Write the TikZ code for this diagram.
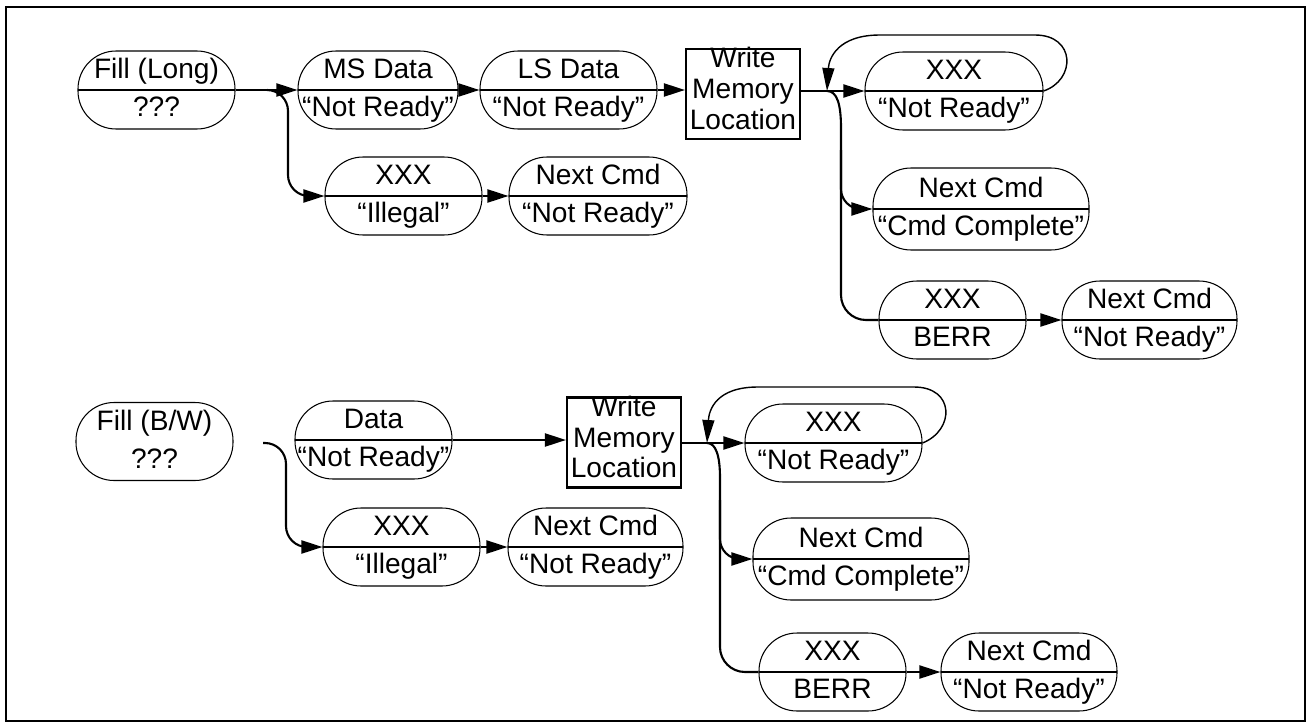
\documentclass[tikz,border=0pt]{standalone}
\usepackage{fontspec}
\setmainfont{Liberation Sans}
\usetikzlibrary{arrows.meta, positioning}
\newcommand{\twoln}[2]{\rule[-3pt]{0pt}{14.4pt}#1\\\rule[-3pt]{0pt}{14.4pt}#2}
\newcommand{\threeln}[3]{\rule[-3pt]{0pt}{14.4pt}#1\\\rule[-3pt]{0pt}{14.4pt}#2\\\rule[-3pt]{0pt}{14.4pt}#3}
\tikzset{
  stplain/.style={draw, line width=0.6pt, rounded corners=0.76cm, minimum width=#1*0.02cm,
    minimum height=1.56cm, inner sep=0pt, align=center, font=\fontsize{16}{21.6}\selectfont},
  stnode/.style={stplain=#1, path picture={\draw[line width=1.2pt, sharp corners]
    (path picture bounding box.west) -- (path picture bounding box.east);}},
  wbox/.style={draw, line width=1.2pt, minimum width=2.28cm, minimum height=1.8cm, inner sep=0pt},
  wtext/.style={inner sep=0pt, align=center, font=\fontsize{16}{17.6}\selectfont},
  conn/.style={line width=1.2pt},
  arr/.style={conn, -{Triangle[length=0.42cm, width=0.26cm]}},
  loop/.style={line width=0.8pt, -{Triangle[length=0.46cm, width=0.24cm]}}
}
\begin{document}
\begin{tikzpicture}[x=0.02cm, y=-0.02cm]
    \useasboundingbox (0,0) rectangle (1312,727);
    \draw[line width=1.6pt] (6,7) rectangle (1305,721);

    % Fill (Long)
    \node[stnode=157] (fl) at (156.5,90) {\twoln{Fill (Long)}{???}};
    \node[stnode=160] (ms) at (378,90) {\twoln{MS Data}{“Not Ready”}};
    \node[stnode=177] (ls) at (568.5,90) {\twoln{LS Data}{“Not Ready”}};
    \node[wbox] (wa) at (743,94) {};
    \node[wtext] (wat) at (743,91) {\threeln{Write}{Memory}{Location}};
    \node[stnode=178] (xa) at (954,91) {\twoln{XXX}{“Not Ready”}};
    \node[stnode=216, minimum height=1.64cm] (na) at (981,209) {\twoln{Next Cmd}{“Cmd Complete”}};
    \node[stnode=147] (ba) at (952.5,320) {\twoln{XXX}{BERR}};
    \node[stnode=175] (nb) at (1149.5,320) {\twoln{Next Cmd}{“Not Ready”}};
    \node[stnode=157] (xi) at (403.5,196) {\twoln{XXX}{“Illegal”}};
    \node[stnode=178] (ni) at (598,196) {\twoln{Next Cmd}{“Not Ready”}};

    \coordinate (s1) at (267,90);
    \coordinate (b1) at (288,196);
    \coordinate (j1) at (827,91);
    \coordinate (v1) at (841,128);
    \coordinate (c1) at (841,150);

    \draw[arr] (fl.east) -- (ms.west);
    \draw[arr, rounded corners=0.42cm] (s1) -| (b1) -- (xi.west);
    \draw[arr] (xi.east) -- (ni.west);
    \draw[arr] (ms.east) -- (ls.west);
    \draw[arr] (ls.east) -- (wa.west |- ls.east);
    \draw[arr] (wa.east |- xa.west) -- (xa.west);
    \draw[loop] (xa.east) .. controls (1076,80) and (1076,35) .. (1035,35) -- (880,35)
        .. controls (838,35) and (829,58) .. (j1);
    \draw[conn] (j1) .. controls (837,91) and (841,104) .. (v1) [rounded corners=0.5cm] |- (ba.west);
    \draw[arr, rounded corners=0.4cm] (c1) |- (na.west);
    \draw[arr] (ba.east) -- (nb.west);

    % Fill (B/W)
    \node[stplain=157] (fb) at (154.5,441.5) {\twoln{Fill (B/W)}{???}};
    \node[stnode=157] (da) at (373.5,440) {\twoln{Data}{“Not Ready”}};
    \node[wbox] (wb) at (624,442.5) {};
    \node[wtext] (wbt) at (624,439.5) {\threeln{Write}{Memory}{Location}};
    \node[stnode=177] (xb) at (833.5,443) {\twoln{XXX}{“Not Ready”}};
    \node[stnode=216, minimum height=1.64cm] (nc) at (861,559) {\twoln{Next Cmd}{“Cmd Complete”}};
    \node[stnode=147] (bb) at (832.5,672) {\twoln{XXX}{BERR}};
    \node[stnode=176] (nd) at (1029,672) {\twoln{Next Cmd}{“Not Ready”}};
    \node[stnode=157] (xj) at (401.5,547) {\twoln{XXX}{“Illegal”}};
    \node[stnode=175] (nj) at (595.5,547) {\twoln{Next Cmd}{“Not Ready”}};

    \coordinate (s2) at (263,443);
    \coordinate (b2) at (286,547);
    \coordinate (j2) at (707,443);
    \coordinate (v2) at (720,478);
    \coordinate (c2) at (720,500);

    \draw[arr, rounded corners=0.42cm] (s2) -| (b2) -- (xj.west);
    \draw[arr] (xj.east) -- (nj.west);
    \draw[arr] (da.east) -- (wb.west |- da.east);
    \draw[arr] (wb.east |- xb.west) -- (xb.west);
    \draw[loop] (xb.east) .. controls (955,430) and (955,387) .. (914,387) -- (758,387)
        .. controls (716,387) and (709,410) .. (j2);
    \draw[conn] (j2) .. controls (716,443) and (720,456) .. (v2) [rounded corners=0.5cm] |- (bb.west);
    \draw[arr, rounded corners=0.4cm] (c2) |- (nc.west);
    \draw[arr] (bb.east) -- (nd.west);
\end{tikzpicture}
\end{document}
